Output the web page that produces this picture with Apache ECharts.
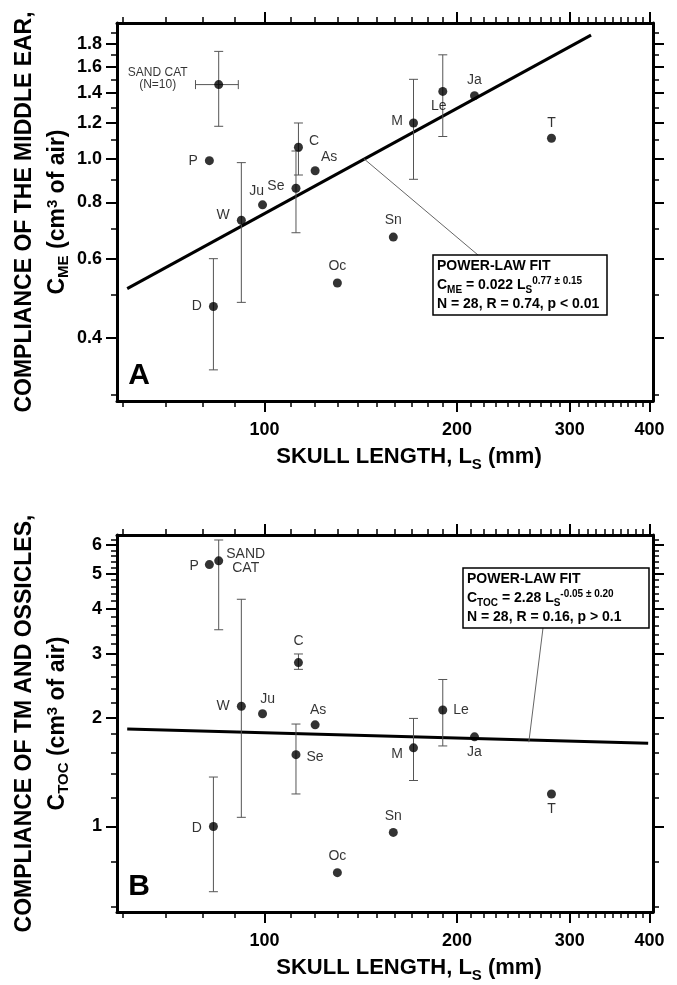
<!DOCTYPE html>
<html>
<head>
<meta charset="utf-8">
<script src="https://cdn.jsdelivr.net/npm/echarts@6/dist/echarts.min.js"></script>
<style>
  html, body { margin: 0; padding: 0; background: #fff; }
  #chart { width: 677px; height: 985px; }
</style>
</head>
<body>
<div id="chart"></div>
<script>
// groups, same order in both panels
const names = ['SAND CAT', 'P', 'D', 'W', 'Ju', 'Se', 'C', 'As', 'Oc', 'Sn', 'M', 'Le', 'Ja', 'T']
// skull length L_S (mm)
const skullLen = [84.8, 82, 83.2, 92, 99.3, 112, 113, 120, 130, 159, 171, 190, 213, 281]
// panel A: compliance of the middle ear, C_ME (cm3 of air)
const cME = [1.46, 0.99, 0.47, 0.73, 0.79, 0.86, 1.06, 0.94, 0.53, 0.67, 1.2, 1.41, 1.38, 1.11]
// panel B: compliance of TM and ossicles, C_TOC (cm3 of air)
const cTOC = [5.43, 5.3, 1.0, 2.15, 2.05, 1.58, 2.84, 1.91, 0.745, 0.963, 1.65, 2.1, 1.77, 1.23]

// error bars: [name, low, high]
const errA = [
  ['SAND CAT', 1.18, 1.73], ['W', 0.48, 0.98], ['D', 0.34, 0.6], ['Se', 0.685, 1.04],
  ['C', 0.92, 1.2], ['M', 0.9, 1.5], ['Le', 1.12, 1.7]
]
const errAx = [['SAND CAT', 78, 91]]
const errB = [
  ['SAND CAT', 3.5, 6.2], ['W', 1.06, 4.25], ['D', 0.66, 1.37], ['Se', 1.23, 1.92],
  ['C', 2.72, 3.0], ['M', 1.34, 1.99], ['Le', 1.67, 2.55]
]
// power-law fit lines (end points)
const fitA = [[61, 0.515], [324, 1.88]]
const fitB = [[61, 1.86], [398, 1.70]]
// point on each fit line where the leader of the text box lands
const leadA = [143, 1.0]
const leadB = [259, 1.71]

// axes
const xRange = [58.8, 405]
const xMajor = [100, 200, 300, 400]
const xMinor = [60, 70, 80, 90, 110, 120, 130, 140, 150, 160, 170, 180, 190,
  210, 220, 230, 240, 250, 260, 270, 280, 290, 310, 320, 330, 340, 350, 360, 370, 380, 390]
const yRangeA = [0.29, 2.0]
const yMajorA = [0.4, 0.6, 0.8, 1.0, 1.2, 1.4, 1.6, 1.8]
const yMinorA = [0.3, 0.5, 0.7, 0.9, 1.1, 1.3, 1.5, 1.7, 1.9]
const yRangeB = [0.58, 6.4]
const yMajorB = [1, 2, 3, 4, 5, 6]
const yMinorB = [0.6, 0.8, 1.2, 1.4, 1.6, 1.8, 2.2, 2.4, 2.6, 2.8, 3.2, 3.4, 3.6, 3.8,
  4.2, 4.4, 4.6, 4.8, 5.2, 5.4, 5.6, 5.8, 6.2]

const FONT = '"Liberation Sans", Arial, Helvetica, sans-serif'

// where each point label sits
const labA = {
  'SAND CAT': { text: 'SAND CAT\n(N=10)', position: 'inside', align: 'center', offset: [-61, -6], fontSize: 12, lineHeight: 12 },
  P: { position: 'left', distance: 7 },
  D: { position: 'left', distance: 7 },
  W: { position: 'left', distance: 7, offset: [0, -5] },
  Ju: { position: 'top', distance: 2, offset: [-6, 0] },
  Se: { position: 'left', distance: 7, offset: [0, -2] },
  C: { position: 'right', distance: 6, offset: [0, -6] },
  As: { position: 'top', distance: 2, offset: [14, 0] },
  Oc: { position: 'top', distance: 5 },
  Sn: { position: 'top', distance: 5 },
  M: { position: 'left', distance: 6, offset: [0, -2] },
  Le: { position: 'bottom', distance: 3, offset: [-4, 0] },
  Ja: { position: 'top', distance: 4 },
  T: { position: 'top', distance: 4 }
}
const labB = {
  'SAND CAT': { text: 'SAND\nCAT', position: 'inside', align: 'center', offset: [27, 0], fontSize: 14, lineHeight: 14 },
  P: { position: 'left', distance: 6, offset: [0, 2] },
  D: { position: 'left', distance: 7, offset: [0, 2] },
  W: { position: 'left', distance: 7 },
  Ju: { position: 'top', distance: 3, offset: [5, 0] },
  Se: { position: 'right', distance: 6, offset: [0, 2] },
  C: { position: 'top', distance: 10 },
  As: { position: 'top', distance: 3, offset: [3, 0] },
  Oc: { position: 'top', distance: 5 },
  Sn: { position: 'top', distance: 5 },
  M: { position: 'left', distance: 6, offset: [0, 6] },
  Le: { position: 'right', distance: 6 },
  Ja: { position: 'bottom', distance: 4 },
  T: { position: 'bottom', distance: 4 }
}

const subRich = {
  s: { fontSize: 15, fontWeight: 'bold', fontFamily: FONT, verticalAlign: 'bottom', lineHeight: 15, padding: [0, 0, 3, 0] },
  p: { fontSize: 15, fontWeight: 'bold', fontFamily: FONT, verticalAlign: 'top', lineHeight: 15, padding: [4, 0, 0, 0] }
}
const xSubRich = {
  s: { fontSize: 15, fontWeight: 'bold', fontFamily: FONT, verticalAlign: 'bottom', lineHeight: 15 }
}

function xAxes(grid) {
  const base = {
    type: 'log', logBase: 10, gridIndex: grid, min: xRange[0], max: xRange[1],
    splitLine: { show: false }, axisLine: { show: false, onZero: false }
  }
  const line = { show: true, onZero: false, lineStyle: { color: '#000', width: 3 } }
  const major = { show: true, customValues: xMajor, length: 11, lineStyle: { color: '#000', width: 2 } }
  const minor = { show: true, customValues: xMinor, length: 6, lineStyle: { color: '#000', width: 1.5 } }
  return [
    {
      ...base, position: 'bottom', axisLine: line, axisTick: major,
      axisLabel: {
        show: true, customValues: xMajor, margin: 20, color: '#000',
        fontFamily: FONT, fontWeight: 'bold', fontSize: 18,
        formatter: v => String(Math.round(v))
      },
      name: 'SKULL LENGTH, L{s|S} (mm)', nameLocation: 'middle', nameGap: 41, nameMoveOverlap: false,
      nameTextStyle: {
        color: '#000', fontFamily: FONT, fontWeight: 'bold', fontSize: 22, lineHeight: 30,
        padding: [0, 0, 0, 48], rich: xSubRich
      }
    },
    { ...base, position: 'bottom', axisTick: minor, axisLabel: { show: false } },
    { ...base, position: 'top', axisLine: line, axisTick: major, axisLabel: { show: false } },
    { ...base, position: 'top', axisTick: minor, axisLabel: { show: false } }
  ]
}

function yAxes(grid, range, majorV, minorV, digits, title) {
  const base = {
    type: 'log', logBase: 10, gridIndex: grid, min: range[0], max: range[1],
    splitLine: { show: false }, axisLine: { show: false, onZero: false }
  }
  const line = { show: true, onZero: false, lineStyle: { color: '#000', width: 3 } }
  const major = { show: true, customValues: majorV, length: 11, lineStyle: { color: '#000', width: 2 } }
  const minor = { show: true, customValues: minorV, length: 6, lineStyle: { color: '#000', width: 1.5 } }
  return [
    {
      ...base, position: 'left', axisLine: line, axisTick: major,
      axisLabel: {
        show: true, customValues: majorV, margin: 15, color: '#000',
        fontFamily: FONT, fontWeight: 'bold', fontSize: 18,
        formatter: v => Number(v).toFixed(digits)
      },
      name: title, nameLocation: 'middle', nameRotate: 90, nameGap: 43, nameMoveOverlap: false,
      nameTextStyle: {
        color: '#000', fontFamily: FONT, fontWeight: 'bold', fontSize: 23,
        lineHeight: 33, rich: subRich
      }
    },
    { ...base, position: 'left', axisTick: minor, axisLabel: { show: false } },
    { ...base, position: 'right', axisLine: line, axisTick: major, axisLabel: { show: false } },
    { ...base, position: 'right', axisTick: minor, axisLabel: { show: false } }
  ]
}

function points(ys, lab) {
  return names.map((n, i) => {
    const l = lab[n] || {}
    const { text, ...pos } = l
    return {
      name: n,
      value: [skullLen[i], ys[i]],
      label: { show: true, formatter: text || n, ...pos }
    }
  })
}

function bars(list, ys) {
  return list.map(e => {
    const i = names.indexOf(e[0])
    return [skullLen[i], ys[i], e[1], e[2]]
  })
}

const barStyle = { stroke: '#555', lineWidth: 1 }
function seg(x1, y1, x2, y2) {
  return { type: 'line', shape: { x1, y1, x2, y2 }, style: barStyle }
}
function vBar(params, api) {
  const hi = api.coord([api.value(0), api.value(3)])
  const lo = api.coord([api.value(0), api.value(2)])
  const w = 4.5
  return {
    type: 'group',
    children: [seg(hi[0], hi[1], lo[0], lo[1]), seg(hi[0] - w, hi[1], hi[0] + w, hi[1]), seg(lo[0] - w, lo[1], lo[0] + w, lo[1])]
  }
}
function hBar(params, api) {
  const a = api.coord([api.value(2), api.value(1)])
  const b = api.coord([api.value(3), api.value(1)])
  const w = 4.5
  return {
    type: 'group',
    children: [seg(a[0], a[1], b[0], b[1]), seg(a[0], a[1] - w, a[0], a[1] + w), seg(b[0], b[1] - w, b[0], b[1] + w)]
  }
}

function panelSeries(ax, ys, fit, err, errX, lab) {
  const s = [
    {
      type: 'line', xAxisIndex: ax, yAxisIndex: ax, data: fit, showSymbol: false, symbol: 'none',
      lineStyle: { color: '#000', width: 3 }, z: 2
    },
    {
      type: 'custom', xAxisIndex: ax, yAxisIndex: ax, renderItem: vBar, data: bars(err, ys),
      encode: { x: 0, y: 1 }, z: 3
    },
    {
      type: 'scatter', xAxisIndex: ax, yAxisIndex: ax, data: points(ys, lab),
      symbol: 'circle', symbolSize: 9, itemStyle: { color: '#000' },
      label: { color: '#000', fontFamily: FONT, fontSize: 14 }, z: 4
    }
  ]
  if (errX.length) {
    s.push({
      type: 'custom', xAxisIndex: ax, yAxisIndex: ax, renderItem: hBar, data: bars(errX, ys),
      encode: { x: 0, y: 1 }, z: 3
    })
  }
  return s
}

const chart = echarts.init(document.getElementById('chart'), null, { renderer: 'canvas' })
chart.setOption({
  animation: false,
  backgroundColor: '#fff',
  textStyle: { fontFamily: FONT },
  grid: [
    { left: 117, top: 23, width: 536, height: 378, outerBoundsMode: 'none' },
    { left: 117, top: 535, width: 536, height: 377, outerBoundsMode: 'none' }
  ],
  xAxis: [...xAxes(0), ...xAxes(1)],
  yAxis: [
    ...yAxes(0, yRangeA, yMajorA, yMinorA, 1, 'COMPLIANCE OF THE MIDDLE EAR,\nC{s|ME} (cm{p|3} of air)'),
    ...yAxes(1, yRangeB, yMajorB, yMinorB, 0, 'COMPLIANCE OF TM AND OSSICLES,\nC{s|TOC} (cm{p|3} of air)')
  ],
  series: [
    ...panelSeries(0, cME, fitA, errA, errAx, labA),
    ...panelSeries(4, cTOC, fitB, errB, [], labB)
  ]
})

// fit boxes, leader lines and panel letters
const boxRich = {
  s: { fontSize: 10, fontWeight: 'bold', fontFamily: FONT, verticalAlign: 'bottom', lineHeight: 10 },
  p: { fontSize: 10, fontWeight: 'bold', fontFamily: FONT, verticalAlign: 'top', lineHeight: 10 }
}
function fitBox(x, y, w, h, text, lead, grid, toX, toY) {
  const p = chart.convertToPixel({ gridIndex: grid }, lead)
  return [
    { type: 'line', shape: { x1: p[0], y1: p[1], x2: toX, y2: toY }, style: { stroke: '#666', lineWidth: 1 }, z: 10 },
    { type: 'rect', shape: { x, y, width: w, height: h }, style: { fill: '#fff', stroke: '#000', lineWidth: 1.5 }, z: 11 },
    {
      type: 'text', x: x + 4, y: y + 2, z: 12,
      style: {
        text, fill: '#000', fontFamily: FONT, fontWeight: 'bold', fontSize: 14, lineHeight: 19, rich: boxRich
      }
    }
  ]
}
function letter(t, x, y) {
  return {
    type: 'text', x, y, z: 12,
    style: { text: t, fill: '#000', fontFamily: FONT, fontWeight: 'bold', fontSize: 30, align: 'center', verticalAlign: 'middle' }
  }
}
chart.setOption({
  graphic: [
    ...fitBox(433, 255, 174, 60,
      'POWER-LAW FIT\nC{s|ME} = 0.022 L{s|S}{p|0.77 ± 0.15}\nN = 28, R = 0.74, p < 0.01', leadA, 0, 478, 255),
    ...fitBox(463, 568, 186, 60,
      'POWER-LAW FIT\nC{s|TOC} = 2.28 L{s|S}{p|-0.05 ± 0.20}\nN = 28, R = 0.16, p > 0.1', leadB, 1, 543, 628),
    letter('A', 139, 376),
    letter('B', 139, 887)
  ]
})
</script>
</body>
</html>
